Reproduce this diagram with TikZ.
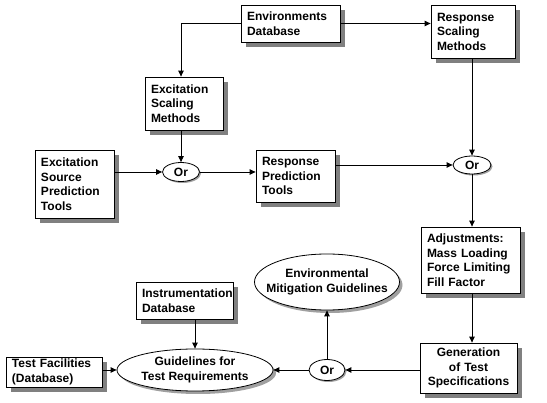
\documentclass[tikz,border=0pt]{standalone}
\usepackage{fontspec}
\setmainfont{Liberation Sans}
\usetikzlibrary{shapes.geometric,arrows.meta,backgrounds}
\definecolor{shadowgray}{RGB}{128,128,128}
\definecolor{ellgray}{RGB}{160,160,160}
\begin{document}
\begin{tikzpicture}[x=1pt,y=-1pt,
  font=\fontsize{12}{14.5}\selectfont\bfseries,
  box/.style={draw, line width=0.8pt, fill=white, inner sep=0pt, align=left},
  ell/.style={ellipse, draw, line width=0.8pt, fill=white, inner sep=0pt},
  orn/.style={ellipse, draw, line width=0.8pt, fill=white, inner sep=0pt,
    minimum width=37pt, minimum height=19pt},
  lbl/.style={align=center, inner sep=0pt},
  boxshadow/.style={fill=shadowgray},
  ellshadow/.style={fill=ellgray},
  arr/.style={-{Triangle[length=6pt,width=5.5pt]}, line width=0.9pt}
]
\useasboundingbox (0,0) rectangle (547,403);

\node[box, minimum width=99pt, minimum height=37pt, text width=87pt] (env) at (290.5,23.5) {Environments\\Database};
\node[box, minimum width=84pt, minimum height=53pt, text width=72pt] (rsm) at (473,31.5) {Response\\Scaling\\Methods};
\node[box, minimum width=78pt, minimum height=53pt, text width=66pt] (exs) at (184,103.5) {Excitation\\Scaling\\Methods};
\node[box, minimum width=79pt, minimum height=68pt, text width=67pt] (espt) at (74.5,184) {Excitation\\Source\\Prediction\\Tools};
\node[orn, label={[lbl]center:Or}] (or1) at (181,172) {};
\node[box, minimum width=79pt, minimum height=52pt, text width=67pt] (rpt) at (295.5,176) {Response\\Prediction\\Tools};
\node[orn, minimum width=38pt, minimum height=18pt, label={[lbl]center:Or}] (or2) at (472,165) {};
\node[box, minimum width=99pt, minimum height=66pt, text width=87pt] (adj) at (470.5,260) {Adjustments:\\Mass Loading\\Force Limiting\\Fill Factor};
\node[box, minimum width=97pt, minimum height=50pt, text width=95pt, align=center] (gen) at (468.5,368) {Generation\\of Test\\Specifications};
\node[orn, minimum width=36pt, minimum height=21pt, label={[lbl]center:Or}] (or3) at (327,370) {};
\node[ell, minimum width=145pt, minimum height=56pt, label={[lbl]center:{Environmental\\Mitigation Guidelines}}] (emg) at (327,282) {};
\node[ell, minimum width=156pt, minimum height=42pt, label={[lbl]center:{Guidelines for\\Test Requirements}}] (gtr) at (195,370) {};
\node[box, minimum width=97pt, minimum height=37pt, text width=85pt] (inst) at (184.5,300.5) {Instrumentation\\Database};
\node[box, minimum width=96pt, minimum height=30pt, text width=84pt] (tf) at (54,372) {Test Facilities\\(Database)};

\begin{scope}[on background layer]
  \foreach \n in {env,rsm,exs,espt,rpt,adj,gen,inst,tf}
    \fill[boxshadow] ([shift={(5,5)}]\n.north west) rectangle ([shift={(5,5)}]\n.south east);
  \fill[ellshadow] ([shift={(3,3)}]emg.center) ellipse [x radius=72.5, y radius=28];
  \fill[ellshadow] ([shift={(3,3)}]gtr.center) ellipse [x radius=78, y radius=21];
  \fill[ellgray] ([shift={(1.5,1.5)}]or1.center) ellipse [x radius=18.5, y radius=9.5];
  \fill[ellgray] ([shift={(1.5,1.5)}]or2.center) ellipse [x radius=19, y radius=9];
  \fill[ellgray] ([shift={(1.5,1.5)}]or3.center) ellipse [x radius=18, y radius=10.5];
\end{scope}

\draw[arr] (env.west) -| (or1 |- exs.north);
\draw[arr] (env.east) -- (env.east -| rsm.west);
\draw[arr] (rsm.south -| or2) -- (or2.north);
\draw[arr] (or1 |- exs.south) -- (or1.north);
\draw[arr] (espt.east |- or1) -- (or1.west);
\draw[arr] (or1.east) -- (or1 -| rpt.west);
\draw[arr] (rpt.east |- or2) -- (or2.west);
\draw[arr] (or2.south) -- (or2 |- adj.north);
\draw[arr] (or2 |- adj.south) -- (or2 |- gen.north);
\draw[arr] (gen.west |- or3) -- (or3.east);
\draw[arr] (or3.north) -- (emg.south);
\draw[arr] (or3.west) -- (gtr.east);
\draw[arr] (gtr.north |- inst.south) -- (gtr.north);
\draw[arr] (tf.east |- gtr) -- (gtr.west);
\end{tikzpicture}
\end{document}
